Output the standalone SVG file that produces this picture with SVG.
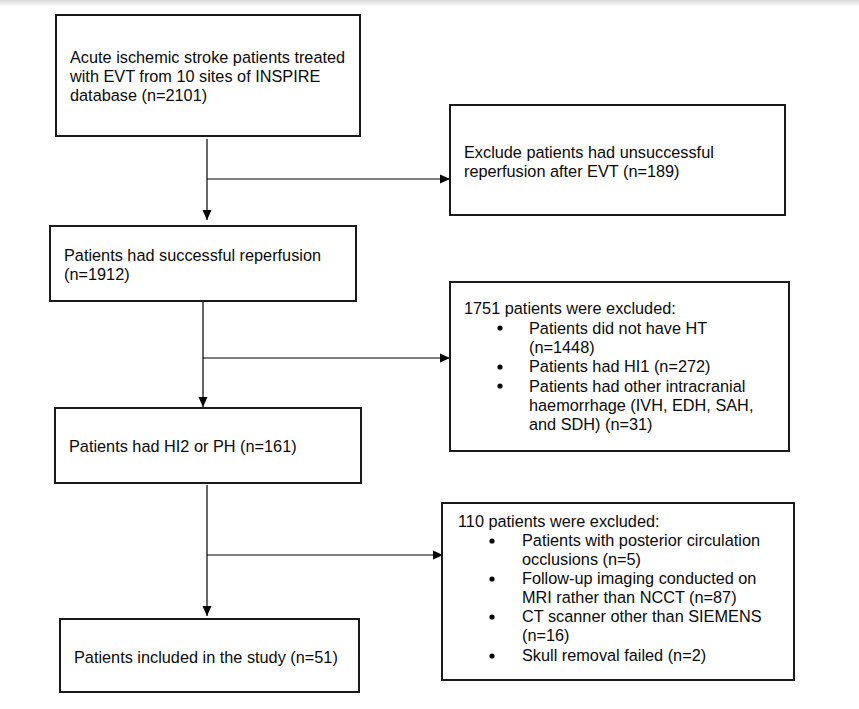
<svg xmlns="http://www.w3.org/2000/svg" width="859" height="709" viewBox="0 0 859 709">
<defs>
<linearGradient id="topshade" x1="0" y1="0" x2="0" y2="1">
<stop offset="0" stop-color="#d8d8d8"/>
<stop offset="1" stop-color="#ffffff"/>
</linearGradient>
<marker id="arr" viewBox="0 0 10 10" refX="10" refY="5" markerWidth="10" markerHeight="10" markerUnits="userSpaceOnUse" orient="auto">
<path d="M0,0.5 L10,5 L0,9.5 Z" fill="#000"/>
</marker>
</defs>
<style>
.box{fill:#fff;stroke:#1a1a1a;stroke-width:2}
.t{font-family:"Liberation Sans",Arial,sans-serif;font-size:16.3px;fill:#0a0a0a}
.c{fill:none;stroke:#000;stroke-width:1.2}
.b{fill:#0a0a0a}
</style>
<rect x="0" y="0" width="859" height="709" fill="#fff"/>
<rect x="0" y="0" width="859" height="7" fill="url(#topshade)"/>
<g id="connectors">
<path class="c" d="M207,139 V220" marker-end="url(#arr)"/>
<path class="c" d="M207,179 H450" marker-end="url(#arr)"/>
<path class="c" d="M203,302 V407" marker-end="url(#arr)"/>
<path class="c" d="M203,358 H450" marker-end="url(#arr)"/>
<path class="c" d="M207,485 V616" marker-end="url(#arr)"/>
<path class="c" d="M207,555 H443" marker-end="url(#arr)"/>
</g>
<g id="n1">
<rect class="box" x="56" y="15" width="304" height="121"/>
<text class="t" x="70" y="63">Acute ischemic stroke patients treated</text>
<text class="t" x="70" y="82">with EVT from 10 sites of INSPIRE</text>
<text class="t" x="70" y="101">database (n=2101)</text>
</g>
<g id="n2">
<rect class="box" x="450" y="105" width="335" height="110"/>
<text class="t" x="464" y="158">Exclude patients had unsuccessful</text>
<text class="t" x="464" y="177">reperfusion after EVT (n=189)</text>
</g>
<g id="n3">
<rect class="box" x="50" y="226" width="306" height="75"/>
<text class="t" x="64" y="261">Patients had successful reperfusion</text>
<text class="t" x="64" y="280">(n=1912)</text>
</g>
<g id="n4">
<rect class="box" x="450" y="282" width="339" height="169"/>
<text class="t" x="464" y="314">1751 patients were excluded:</text>
<circle class="b" cx="500" cy="328" r="2.6"/>
<text class="t" x="529" y="334">Patients did not have HT</text>
<text class="t" x="529" y="353">(n=1448)</text>
<circle class="b" cx="500" cy="367" r="2.6"/>
<text class="t" x="529" y="372">Patients had HI1 (n=272)</text>
<circle class="b" cx="500" cy="386" r="2.6"/>
<text class="t" x="529" y="392">Patients had other intracranial</text>
<text class="t" x="529" y="411">haemorrhage (IVH, EDH, SAH,</text>
<text class="t" x="529" y="430">and SDH) (n=31)</text>
</g>
<g id="n5">
<rect class="box" x="55" y="408" width="306" height="75"/>
<text class="t" x="69" y="452">Patients had HI2 or PH (n=161)</text>
</g>
<g id="n6">
<rect class="box" x="60" y="619" width="299" height="73"/>
<text class="t" x="74" y="663">Patients included in the study (n=51)</text>
</g>
<g id="n7">
<rect class="box" x="442" y="503" width="352" height="177"/>
<text class="t" x="458" y="527">110 patients were excluded:</text>
<circle class="b" cx="492" cy="541" r="2.6"/>
<text class="t" x="522" y="546">Patients with posterior circulation</text>
<text class="t" x="522" y="565">occlusions (n=5)</text>
<circle class="b" cx="492" cy="579" r="2.6"/>
<text class="t" x="522" y="584">Follow-up imaging conducted on</text>
<text class="t" x="522" y="603">MRI rather than NCCT (n=87)</text>
<circle class="b" cx="492" cy="617" r="2.6"/>
<text class="t" x="522" y="622">CT scanner other than SIEMENS</text>
<text class="t" x="522" y="641">(n=16)</text>
<circle class="b" cx="492" cy="656" r="2.6"/>
<text class="t" x="522" y="661">Skull removal failed (n=2)</text>
</g>
</svg>
